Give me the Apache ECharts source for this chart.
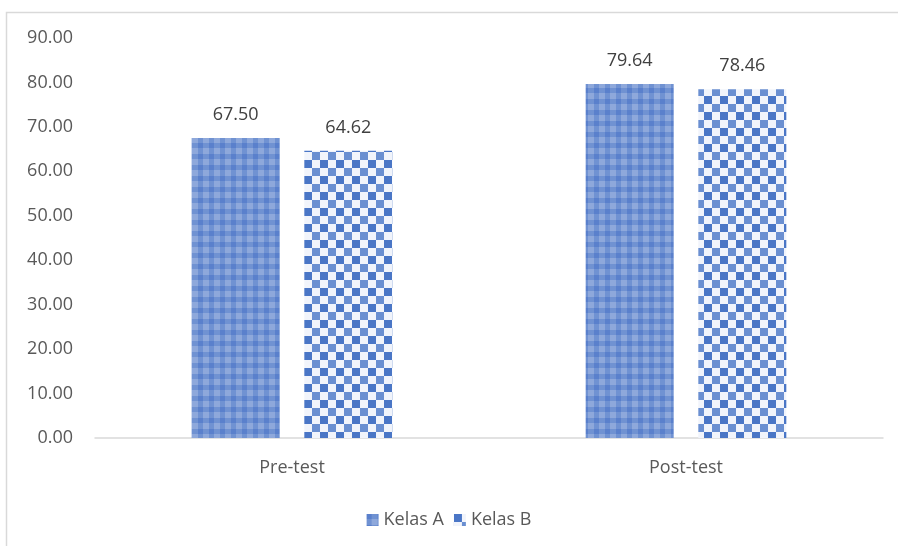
<!DOCTYPE html>
<html><head><meta charset="utf-8">
<script src="https://cdn.jsdelivr.net/npm/echarts@6/dist/echarts.min.js"></script>
<style>html,body{margin:0;padding:0;background:#fff}#c{width:898px;height:546px}</style>
</head><body><div id="c"></div>
<script>
const categories = ['Pre-test', 'Post-test'];
const seriesNames = ['Kelas A', 'Kelas B'];
const kelasA = [67.50, 79.64];
const kelasB = [64.62, 78.46];

function plaid() {
  const c = document.createElement('canvas'); c.width = 11; c.height = 11;
  const g = c.getContext('2d');
  g.fillStyle = '#8ea8db'; g.fillRect(0,0,11,11);
  g.fillStyle = '#7092d2'; g.fillRect(0,0,5,11); g.fillRect(0,0,11,5);
  g.fillStyle = '#5a80cc'; g.fillRect(0,0,5,5);
  return c;
}
function checker() {
  const c = document.createElement('canvas'); c.width = 16; c.height = 16;
  const g = c.getContext('2d');
  g.fillStyle = '#f1f4fb'; g.fillRect(0,0,16,16);
  g.fillStyle = '#4a76c6'; g.fillRect(0,0,8,8);
  g.fillStyle = '#6a8fd1'; g.fillRect(8,8,8,8);
  return c;
}
const patA = {image: plaid(), repeat: 'repeat'};
const patB = {image: checker(), repeat: 'repeat'};

const chart = echarts.init(document.getElementById('c'));
const font = '"Open Sans", "Noto Sans", sans-serif';
chart.setOption({
  animation: false,
  textStyle: {fontFamily: font},
  grid: {left: 95, right: 15, top: 38, bottom: 108},
  graphic: [{type: 'polyline', shape: {points: [[6.5, 546], [6.5, 12.5], [898, 12.5]]},
             style: {stroke: '#d9d9d9', lineWidth: 1.5, fill: null}, silent: true}],
  legend: {bottom: 12, left: 'center', itemWidth: 12, itemHeight: 12, itemGap: 10,
           textStyle: {fontSize: 18, color: '#595959', fontFamily: font},
           data: [{name: seriesNames[0], icon: 'rect'}, {name: seriesNames[1], icon: 'rect'}]},
  xAxis: {type: 'category', data: categories,
          axisLine: {lineStyle: {color: '#d9d9d9', width: 1.5}}, axisTick: {show: false},
          axisLabel: {fontSize: 18, color: '#595959', margin: 21, fontFamily: font}},
  yAxis: {type: 'value', min: 0, max: 90, interval: 10,
          splitLine: {show: false}, axisLine: {show: false}, axisTick: {show: false},
          axisLabel: {fontSize: 18, color: '#595959', margin: 22, fontFamily: font,
                      formatter: v => v.toFixed(2)}},
  series: [
    {name: seriesNames[0], type: 'bar', data: kelasA, barWidth: 88, barGap: '28%',
     itemStyle: {color: patA},
     label: {show: true, position: 'top', distance: 14, fontSize: 18, color: '#404040', fontFamily: font,
             formatter: p => p.value.toFixed(2)}},
    {name: seriesNames[1], type: 'bar', data: kelasB, barWidth: 88,
     itemStyle: {color: patB},
     label: {show: true, position: 'top', distance: 14, fontSize: 18, color: '#404040', fontFamily: font,
             formatter: p => p.value.toFixed(2)}}
  ]
});
</script></body></html>
